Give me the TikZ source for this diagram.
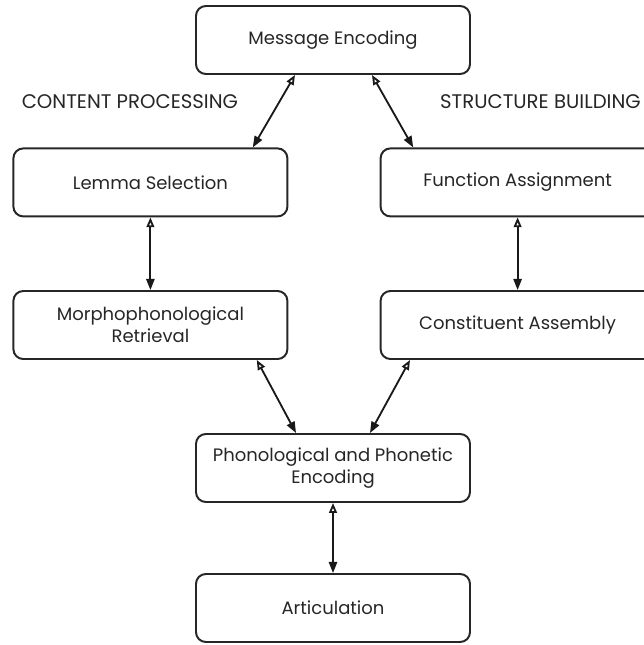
\documentclass[tikz,border=0pt]{standalone}
\usepackage{fontspec}
\setmainfont{Poppins}
\usetikzlibrary{arrows.meta}

\begin{document}
\begin{tikzpicture}[
    stage/.style={rectangle, rounded corners=7pt, minimum width=6.85cm, minimum height=1.7cm, text centered, align=center, draw=black!85, line width=1.4pt, font=\fontsize{12.8}{15.5}\selectfont, text=black!85},
    heading/.style={font=\fontsize{14}{16}\selectfont, text=black!85, anchor=west},
    link/.style={{Triangle[open, length=7pt, width=5.5pt]}-{Triangle[length=8pt, width=6pt]}, line width=1.3pt, black!90}
]
    \useasboundingbox (0,0) rectangle (16.1,-16.125);
    \clip (0,0) rectangle (16.1,-16.125);

    % Stages
    \node[stage] (message) at (8.325, -1.0) {Message Encoding};
    \node[stage] (lemma) at (3.76, -4.56) {Lemma Selection};
    \node[stage] (function) at (12.94, -4.56) {Function Assignment};
    \node[stage] (morpho) at (3.76, -8.125) {Morphophonological\\Retrieval};
    \node[stage] (constituent) at (12.94, -8.125) {Constituent Assembly};
    \node[stage] (phonetic) at (8.325, -11.7) {Phonological and Phonetic\\Encoding};
    \node[stage] (articulation) at (8.325, -15.2) {Articulation};

    % Headings
    \node[heading] (content) at (0.42, -2.53) {CONTENT PROCESSING};
    \node[heading] (structure) at (10.88, -2.53) {STRUCTURE BUILDING};

    % Links
    \draw[link] ([xshift=-0.95cm]message.south) -- ([xshift=2.56cm]lemma.north);
    \draw[link] ([xshift=0.975cm]message.south) -- ([xshift=-2.61cm]function.north);
    \draw[link] (lemma.south) -- (morpho.north);
    \draw[link] (function.south) -- (constituent.north);
    \draw[link] ([xshift=2.66cm]morpho.south) -- ([xshift=-0.925cm]phonetic.north);
    \draw[link] ([xshift=-2.69cm]constituent.south) -- ([xshift=0.925cm]phonetic.north);
    \draw[link] (phonetic.south) -- (articulation.north);

\end{tikzpicture}
\end{document}
